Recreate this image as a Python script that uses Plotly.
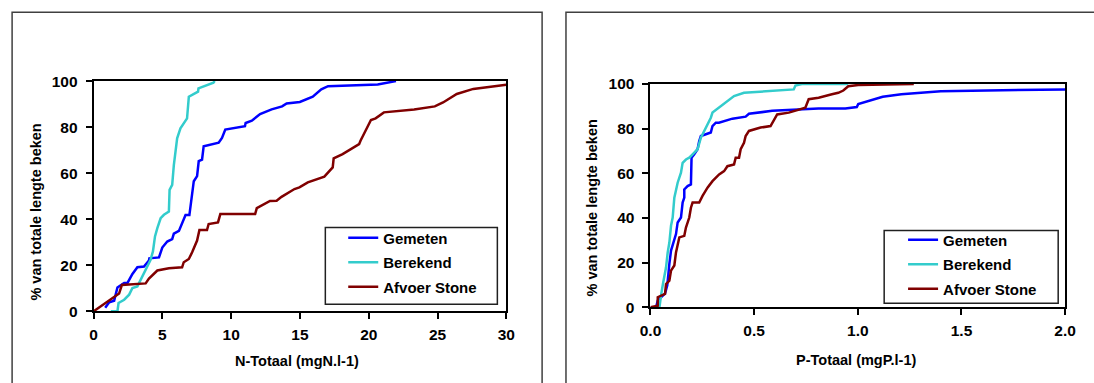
import plotly.graph_objects as go

# ---- N-Totaal (mgN.l-1): cumulative % of total stream length ----
n_gemeten_x = [0.84, 1.13, 1.49, 1.61, 1.73, 2.22, 2.46, 2.82, 3.18, 3.66, 4.02, 4.05, 4.75, 4.99, 5.35,
               5.71, 5.83, 6.2, 6.43, 6.68, 6.96, 7.16, 7.28, 7.52, 7.64, 7.88, 8.0, 9.09, 9.33, 9.57,
               11.0, 11.05, 11.5, 12.1, 12.94, 13.7, 14.03, 14.99, 15.93, 16.55, 17.04, 20.65, 21.98]
n_gemeten_y = [1.5, 3.9, 4.6, 8.2, 10.3, 12.3, 12.3, 16.2, 19.1, 19.4, 22.0, 23.0, 23.4, 27.7, 30.3,
               31.3, 33.7, 34.9, 38.0, 41.8, 41.8, 50.8, 56.5, 58.7, 65.2, 65.9, 71.7, 73.2, 75.3, 78.9,
               80.4, 81.8, 82.8, 85.7, 87.7, 89.0, 90.3, 90.9, 93.2, 96.4, 97.8, 98.5, 100.0]

n_berekend_x = [1.25, 1.73, 1.81, 2.22, 2.58, 2.82, 3.18, 3.42, 3.66, 3.9, 4.14, 4.31, 4.46, 4.63, 4.87,
                5.11, 5.47, 5.52, 5.71, 5.83, 6.07, 6.31, 6.79, 6.92, 7.28, 7.59, 7.62, 8.71, 8.8]
n_berekend_y = [0.0, 0.0, 3.6, 5.0, 7.2, 10.1, 10.8, 13.7, 15.9, 19.5, 22.4, 26.0, 32.5, 36.1, 40.4,
                41.9, 43.3, 52.7, 54.9, 63.5, 75.1, 79.5, 83.8, 93.2, 94.2, 95.4, 96.8, 99.3, 100.0]

n_stone_x = [0.0, 1.61, 1.85, 2.05, 3.78, 4.02, 4.63, 5.47, 6.43, 6.55, 6.92, 7.16, 7.52, 7.69, 8.24,
             8.36, 9.04, 9.21, 11.74, 11.86, 12.82, 13.3, 13.66, 14.6, 14.96, 15.57, 16.77, 17.38,
             17.45, 18.1, 19.3, 19.4, 19.9, 20.16, 20.5, 21.1, 23.3, 24.8, 25.4, 26.4, 27.6, 30.0]
n_stone_y = [0.0, 6.6, 7.7, 11.4, 12.1, 14.2, 17.7, 18.7, 19.1, 21.3, 22.7, 25.6, 30.7, 35.3, 35.3,
             37.9, 38.6, 42.2, 42.2, 44.8, 47.9, 48.0, 49.7, 53.1, 53.8, 56.0, 58.5, 62.5,
             66.4, 68.3, 72.6, 74.1, 79.6, 83.1, 83.8, 86.4, 87.6, 89.0, 90.7, 94.4, 96.6, 98.4]

# ---- P-Totaal (mgP.l-1) ----
p_gemeten_x = [0.0, 0.027, 0.035, 0.053, 0.07, 0.081, 0.086, 0.091, 0.099, 0.107, 0.123, 0.131, 0.147,
               0.155, 0.163, 0.163, 0.179, 0.195, 0.198, 0.211, 0.227, 0.235, 0.243, 0.267, 0.291,
               0.299, 0.315, 0.33, 0.395, 0.459, 0.475, 0.587, 0.667, 0.81, 0.94, 0.995, 1.002,
               1.05, 1.12, 1.21, 1.40, 2.0]
p_gemeten_y = [0.0, 0.0, 3.1, 4.6, 6.1, 9.8, 16.5, 19.4, 25.4, 27.6, 32.8, 38.0, 40.2,
               46.9, 49.1, 52.8, 54.3, 55.0, 67.0, 68.5, 70.8, 74.5, 76.7, 77.5, 78.3,
               81.2, 82.7, 82.7, 84.5, 85.4, 86.7, 88.0, 88.4, 89.0, 89.0, 89.7, 91.0,
               92.4, 94.3, 95.4, 96.8, 97.6]

p_berekend_x = [0.043, 0.046, 0.052, 0.06, 0.067, 0.075, 0.083, 0.091, 0.099, 0.107, 0.115, 0.123,
                0.131, 0.147, 0.155, 0.171, 0.187, 0.203, 0.227, 0.243, 0.267, 0.291, 0.299, 0.331,
                0.371, 0.403, 0.451, 0.587, 0.691, 0.699, 0.73, 0.954]
p_berekend_y = [0.0, 3.0, 6.0, 10.4, 13.4, 17.9, 24.6, 29.0, 36.5, 40.2, 49.1, 52.8,
                55.8, 60.3, 64.7, 66.2, 67.0, 68.5, 70.8, 76.0, 80.5, 84.9, 87.2, 89.4,
                92.4, 94.6, 96.1, 96.8, 97.6, 99.3, 100.0, 100.0]

p_stone_x = [0.0, 0.035, 0.035, 0.07, 0.075, 0.091, 0.099, 0.115, 0.123, 0.139, 0.163, 0.171, 0.187,
             0.195, 0.203, 0.235, 0.251, 0.275, 0.299, 0.331, 0.355, 0.371, 0.403, 0.411, 0.427,
             0.435, 0.451, 0.459, 0.475, 0.499, 0.531, 0.579, 0.595, 0.611, 0.667, 0.731, 0.747,
             0.763, 0.811, 0.875, 0.906, 0.93, 0.954, 1.002, 1.27]
p_stone_y = [0.0, 0.7, 4.5, 6.0, 10.4, 11.9, 16.4, 18.7, 24.6, 31.3, 32.0, 35.7, 40.2,
             44.6, 46.9, 46.9, 49.9, 53.6, 56.5, 59.5, 61.0, 63.2, 64.0, 67.0, 67.0,
             70.8, 73.7, 76.7, 79.0, 79.7, 80.5, 81.2, 83.5, 86.4, 87.2, 88.7, 89.4,
             93.2, 93.9, 95.4, 96.1, 97.1, 99.0, 99.6, 100.0]

series_names = ["Gemeten", "Berekend", "Afvoer Stone"]
series_colors = ["#0000FF", "#33CCCC", "#800000"]

x_ticks_n = [0, 5, 10, 15, 20, 25, 30]
x_ticks_p = [0.0, 0.5, 1.0, 1.5, 2.0]
y_ticks = [0, 20, 40, 60, 80, 100]

# Visible area is (1094+16) x (383+16) with an 8px body margin before the
# plot div; the figure fills it to the right and bottom edges.  Layout
# positions are given in 1094x383 picture pixels and converted here.
PIC_W, PIC_H, BODY = 1094, 383, 8
VIEW_W, VIEW_H = PIC_W + 2 * BODY, PIC_H + 2 * BODY
W, H = VIEW_W - BODY, VIEW_H - BODY
FONT = "Liberation Sans, Arial, sans-serif"


def fx(x):
    return (x * VIEW_W / PIC_W - BODY) / W


def fy(y):
    return 1 - (y * VIEW_H / PIC_H - BODY) / H


fig = go.Figure()

n_data = [(n_gemeten_x, n_gemeten_y), (n_berekend_x, n_berekend_y), (n_stone_x, n_stone_y)]
p_data = [(p_gemeten_x, p_gemeten_y), (p_berekend_x, p_berekend_y), (p_stone_x, p_stone_y)]

for i, ((xs, ys), name, col) in enumerate(zip(n_data, series_names, series_colors)):
    fig.add_trace(go.Scatter(x=xs, y=ys, mode="lines", name=name,
                             line=dict(color=col, width=2.5), legendgroup=f"n{i}",
                             xaxis="x", yaxis="y", legend="legend"))
for i, ((xs, ys), name, col) in enumerate(zip(p_data, series_names, series_colors)):
    fig.add_trace(go.Scatter(x=xs, y=ys, mode="lines", name=name,
                             line=dict(color=col, width=2.5), legendgroup=f"p{i}",
                             xaxis="x2", yaxis="y2", legend="legend2"))

tick_font = dict(family=FONT, size=15.5, color="black", weight="bold")
axis_common = dict(showline=True, mirror=True, linecolor="black", linewidth=2,
                   ticks="outside", ticklen=6, tickwidth=2, tickcolor="black",
                   showgrid=False, zeroline=False, tickfont=tick_font, fixedrange=True)

legend_common = dict(xanchor="left", yanchor="top", bgcolor="rgba(0,0,0,0)", borderwidth=0,
                     font=dict(family=FONT, size=15, color="black", weight="bold"),
                     itemwidth=30, tracegroupgap=2, traceorder="grouped")

fig.update_layout(
    width=W, height=H, autosize=False,
    margin=dict(l=0, r=0, t=0, b=0),
    paper_bgcolor="white", plot_bgcolor="white",
    xaxis=dict(domain=[fx(91), fx(506)], range=[0, 30], tickvals=x_ticks_n,
               anchor="y", ticklabelstandoff=2, **axis_common),
    yaxis=dict(domain=[fy(311), fy(80)], range=[0, 100], tickvals=y_ticks,
               anchor="x", ticklabelstandoff=5, **axis_common),
    xaxis2=dict(domain=[fx(651), fx(1068)], range=[0, 2], tickvals=x_ticks_p,
                tickformat=".1f", anchor="y2", ticklabelstandoff=2, **axis_common),
    yaxis2=dict(domain=[fy(307), fy(83)], range=[0, 100], tickvals=y_ticks,
                anchor="x2", ticklabelstandoff=5, **axis_common),
    legend=dict(x=fx(342), y=fy(221), **legend_common),
    legend2=dict(x=fx(905), y=fy(223), **legend_common),
    showlegend=True,
)

# Outer chart frames and legend boxes
frame_line = dict(color="#404040", width=1.5)
fig.add_shape(type="rect", xref="paper", yref="paper",
              x0=fx(9), x1=fx(542), y0=-0.2, y1=fy(11), line=frame_line, layer="below")
fig.add_shape(type="rect", xref="paper", yref="paper",
              x0=fx(566), x1=1.2, y0=-0.2, y1=fy(11), line=frame_line, layer="below")
fig.add_shape(type="rect", xref="paper", yref="paper",
              x0=fx(324), x1=fx(497), y0=fy(304), y1=fy(227),
              line=dict(color="#202020", width=1.5), fillcolor="white", layer="above")
fig.add_shape(type="rect", xref="paper", yref="paper",
              x0=fx(886), x1=fx(1061), y0=fy(303), y1=fy(230),
              line=dict(color="#202020", width=1.5), fillcolor="white", layer="above")

title_font = dict(family=FONT, size=14.5, color="black", weight="bold")
fig.add_annotation(text="N-Totaal (mgN.l-1)", x=fx(296), y=fy(361), xref="paper", yref="paper",
                   showarrow=False, xanchor="center", yanchor="middle", font=title_font)
fig.add_annotation(text="P-Totaal (mgP.l-1)", x=fx(858), y=fy(360), xref="paper", yref="paper",
                   showarrow=False, xanchor="center", yanchor="middle", font=title_font)
fig.add_annotation(text="% van totale lengte beken", x=fx(33), y=fy(211), xref="paper", yref="paper",
                   showarrow=False, xanchor="center", yanchor="middle", textangle=-90, font=title_font)
fig.add_annotation(text="% van totale lengte beken", x=fx(592), y=fy(207), xref="paper", yref="paper",
                   showarrow=False, xanchor="center", yanchor="middle", textangle=-90, font=title_font)

fig.write_html("out.html")
